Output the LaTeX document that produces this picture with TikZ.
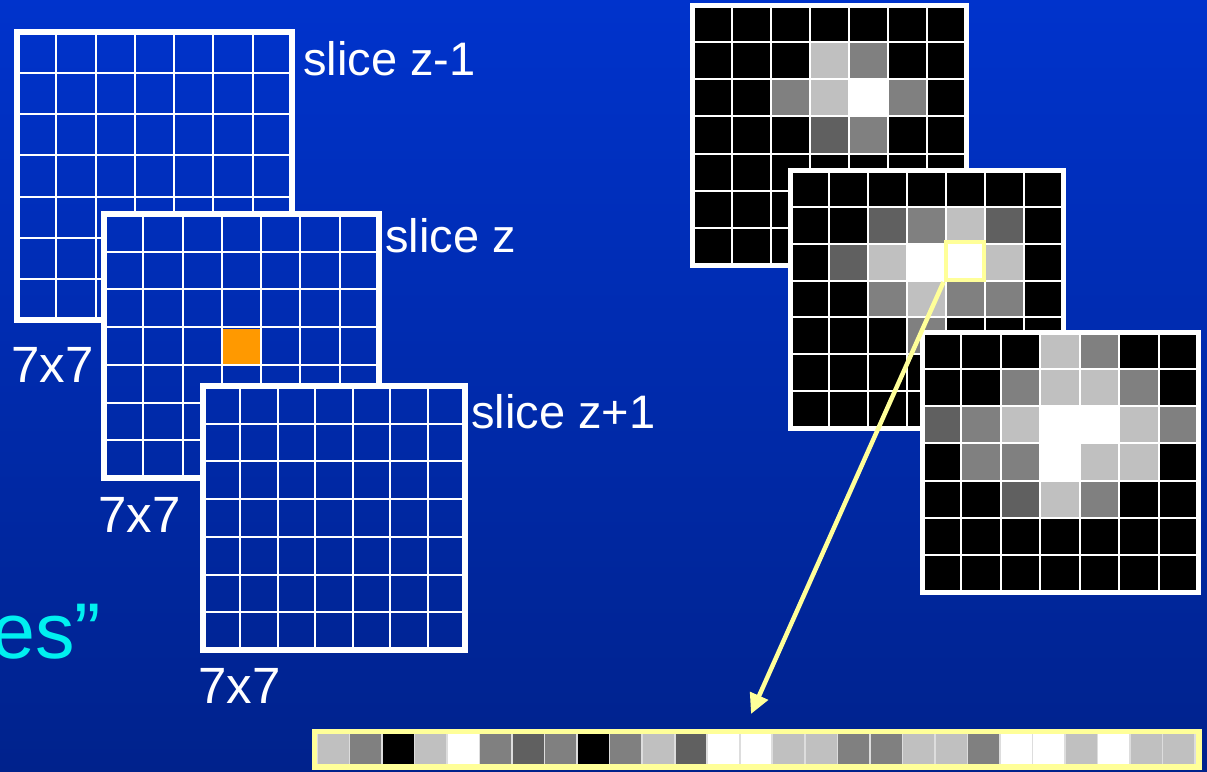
\documentclass[tikz,border=0pt]{standalone}
\usepackage{fontspec}
\setmainfont{Liberation Sans}
\usetikzlibrary{arrows.meta}
\definecolor{bgtop}{HTML}{0033CC}
\definecolor{bgbot}{HTML}{00228C}
\definecolor{hlyellow}{HTML}{FFFF99}
\definecolor{orangecell}{HTML}{FF9900}
\definecolor{gK}{HTML}{000000}
\definecolor{gD}{HTML}{606060}
\definecolor{gM}{HTML}{808080}
\definecolor{gL}{HTML}{C0C0C0}
\definecolor{gW}{HTML}{FFFFFF}
\definecolor{sepgray}{HTML}{DDDDDD}
\definecolor{cyantext}{HTML}{00F0F0}

\tikzset{
  thinline/.style={white, line width=2pt},
  thickframe/.style={white, line width=6pt},
  grayframe/.style={white, line width=5pt},
  lbl/.style={text=white, font=\fontsize{47}{56}\selectfont, inner sep=0pt, anchor=base west},
  dimlbl/.style={text=white, font=\fontsize{51}{60}\selectfont, inner sep=0pt, anchor=base west},
  bigcyan/.style={text=cyantext, font=\fontsize{79}{90}\selectfont, inner sep=0pt, anchor=base west},
  hlbox/.style={draw=hlyellow, line width=4pt, inner sep=0pt, minimum width=38pt, minimum height=38pt},
  hlarrow/.style={draw=hlyellow, line width=4.5pt, -{Triangle[length=20pt,width=19pt]}},
}

\newcommand{\bgpatch}[4]{%
  \begin{scope}
    \clip (#1,#2) rectangle (#3,#4);
    \shade[top color=bgtop, bottom color=bgbot] (0,0) rectangle (1207,771);
  \end{scope}}

\newcommand{\bluegrid}[4]{%
  \bgpatch{#1}{#2}{#3}{#4}
  \foreach \ii in {1,...,6}{
    \draw[thinline] ({#1+\ii*(#3-#1)/7},#2) -- ({#1+\ii*(#3-#1)/7},#4);
    \draw[thinline] (#1,{#2+\ii*(#4-#2)/7}) -- (#3,{#2+\ii*(#4-#2)/7});
  }
  \draw[thickframe] (#1,#2) rectangle (#3,#4);}

\newcommand{\graygrid}[5]{%
  \foreach \rowlist [count=\ri from 0] in {#5}{
    \foreach \cellc [count=\ci from 0] in \rowlist{
      \fill[fill=g\cellc] ({#1+\ci*(#3-#1)/7},{#2+\ri*(#4-#2)/7}) rectangle ({#1+(\ci+1)*(#3-#1)/7},{#2+(\ri+1)*(#4-#2)/7});
    }
  }
  \foreach \ii in {1,...,6}{
    \draw[thinline] ({#1+\ii*(#3-#1)/7},#2) -- ({#1+\ii*(#3-#1)/7},#4);
    \draw[thinline] (#1,{#2+\ii*(#4-#2)/7}) -- (#3,{#2+\ii*(#4-#2)/7});
  }
  \draw[grayframe] (#1,#2) rectangle (#3,#4);}

\begin{document}
\begin{tikzpicture}[x=1pt, y=-1pt]
\useasboundingbox (0,0) rectangle (1207,771);
\shade[top color=bgtop, bottom color=bgbot] (0,0) rectangle (1207,771);

% left stack of slices
\bluegrid{17}{32}{292}{320}
\node[lbl] (lz1) at (303,75) {slice z-1};
\node[dimlbl] (d1) at (11,382) {7x7};

\bluegrid{104}{214}{379}{478}
\fill[orangecell] (223,328.5) rectangle (260,363.5);
\node[lbl] (lz) at (385,252) {slice z};
\node[dimlbl] (d2) at (98,532) {7x7};

\bluegrid{203}{386}{465}{650}
\node[lbl] (lz2) at (471,428) {slice z+1};
\node[dimlbl] (d3) at (198,703) {7x7};

\node[bigcyan] (es) at (-9,658) {es”};

% right stack of image slices
\graygrid{692.5}{5}{966.5}{265}{{K,K,K,K,K,K,K},{K,K,K,L,M,K,K},{K,K,M,L,W,M,K},{K,K,K,D,M,K,K},{K,K,K,K,K,K,K},{K,K,K,K,K,K,K},{K,K,K,K,K,K,K}}
\graygrid{790}{170}{1063}{428}{{K,K,K,K,K,K,K},{K,K,D,M,L,D,K},{K,D,L,W,W,L,K},{K,K,M,L,M,M,K},{K,K,K,M,K,K,K},{K,K,K,K,K,K,K},{K,K,K,K,K,K,K}}
\graygrid{922}{332}{1198}{592}{{K,K,K,L,M,K,K},{K,K,M,L,L,M,K},{D,M,L,W,W,L,M},{K,M,M,W,L,L,K},{K,K,D,L,M,K,K},{K,K,K,K,K,K,K},{K,K,K,K,K,K,K}}

% highlighted voxel
\node[hlbox] (hl) at (964.5,261) {};

% feature strip
\node[fill=hlyellow, inner sep=0pt, minimum width=890pt, minimum height=41pt] (strip) at (757,749.5) {};
\fill[sepgray] (316.5,734) rectangle (1195.5,764.3);
\foreach \cellc [count=\ci from 0] in {L,M,K,L,W,M,D,M,K,M,L,D,W,W,L,L,M,M,L,L,M,W,W,L,W,L,L}{
  \fill[fill=g\cellc] ({317+\ci*32.52+0.8},734) rectangle ({317+(\ci+1)*32.52-0.8},764.3);
}

% arrow
\coordinate (tip) at (751,714);
\draw[hlarrow] (hl.south west) -- (tip);
\end{tikzpicture}
\end{document}
